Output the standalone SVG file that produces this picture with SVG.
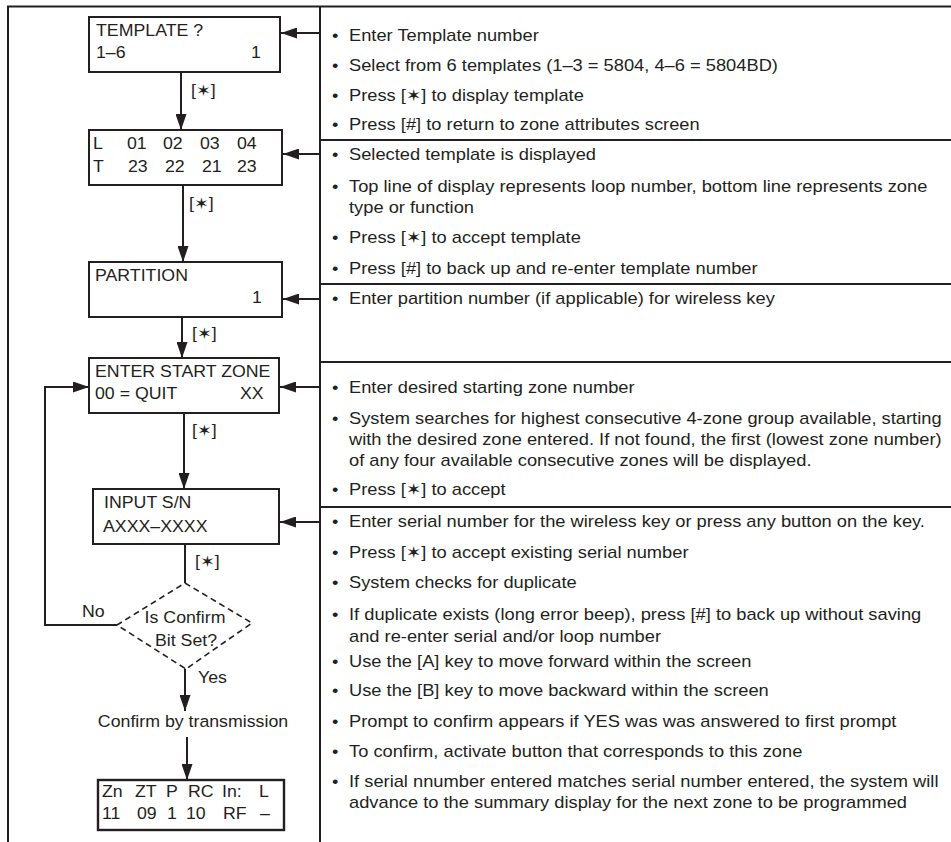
<svg xmlns="http://www.w3.org/2000/svg" width="951" height="842" viewBox="0 0 951 842">
<style>
.ln{stroke:#231f20;stroke-width:2;fill:none}
.bx{stroke:#231f20;stroke-width:2;fill:#fff}
.dm{stroke:#231f20;stroke-width:1.6;fill:#fff;stroke-dasharray:6,4}
.ar{stroke:#231f20;stroke-width:2;fill:none;marker-end:url(#ah)}
text{font-family:"Liberation Sans",Arial,"DejaVu Sans",sans-serif;fill:#231f20}
.l{font-size:15.7px}
.r{font-size:16.2px}
.m{text-anchor:middle}
</style>
<defs>
<marker id="ah" viewBox="0 0 16 11" refX="16" refY="5.5" markerWidth="16" markerHeight="11" markerUnits="userSpaceOnUse" orient="auto"><path d="M0,0 L16,5.5 L0,11 z" fill="#231f20"/></marker>
</defs>
<rect width="951" height="842" fill="#fff"/>
<g id="frame">
<path class="ln" d="M8,842 V6.5 H951"/>
<path class="ln" d="M320,6.5 V842"/>
<path class="ln" d="M320,140 H951 M320,284 H951 M320,362 H951 M320,507 H951"/>
</g>
<g id="connectors">
<path class="ar" d="M320,33 H281"/>
<path class="ar" d="M320,154 H283"/>
<path class="ar" d="M320,299 H283"/>
<path class="ar" d="M320,387 H280"/>
<path class="ar" d="M320,522 H280"/>
<path class="ar" d="M181,72 V130"/>
<path class="ar" d="M183,185 V262"/>
<path class="ar" d="M182,317 V358"/>
<path class="ar" d="M184,413 V489"/>
<path class="ln" d="M185,544 V583"/>
<path class="ar" d="M185,668 V711"/>
<path class="ar" d="M187,737 V780"/>
<path class="ar" d="M117,625 H45 V387 H89"/>
<text class="l" transform="matrix(1.13 0 0 1 191 96)">[✶]</text>
<text class="l" transform="matrix(1.13 0 0 1 189 209)">[✶]</text>
<text class="l" transform="matrix(1.13 0 0 1 192 339)">[✶]</text>
<text class="l" transform="matrix(1.13 0 0 1 192 436)">[✶]</text>
<text class="l" transform="matrix(1.13 0 0 1 195 567)">[✶]</text>
<text class="l" transform="matrix(1.13 0 0 1 198 683)">Yes</text>
<text class="l" transform="matrix(1.13 0 0 1 82 617)">No</text>
</g>
<g id="template">
<rect class="bx" x="89" y="17" width="191" height="55"/>
<text class="l" transform="matrix(1.13 0 0 1 96 36)">TEMPLATE ?</text>
<text class="l" transform="matrix(1.13 0 0 1 96 58)">1–6</text>
<text class="l" transform="matrix(1.13 0 0 1 251 58)">1</text>
</g>
<g id="templateDisplay">
<rect class="bx" x="89" y="130" width="193" height="55"/>
<text class="l" transform="matrix(1.13 0 0 1 93 149)">L</text>
<text class="l" transform="matrix(1.13 0 0 1 127 149)">01</text>
<text class="l" transform="matrix(1.13 0 0 1 163 149)">02</text>
<text class="l" transform="matrix(1.13 0 0 1 200 149)">03</text>
<text class="l" transform="matrix(1.13 0 0 1 237 149)">04</text>
<text class="l" transform="matrix(1.13 0 0 1 93 172)">T</text>
<text class="l" transform="matrix(1.13 0 0 1 128 172)">23</text>
<text class="l" transform="matrix(1.13 0 0 1 165 172)">22</text>
<text class="l" transform="matrix(1.13 0 0 1 202 172)">21</text>
<text class="l" transform="matrix(1.13 0 0 1 237 172)">23</text>
</g>
<g id="partition">
<rect class="bx" x="89" y="262" width="193" height="55"/>
<text class="l" transform="matrix(1.13 0 0 1 95 281)">PARTITION</text>
<text class="l" transform="matrix(1.13 0 0 1 252 303)">1</text>
</g>
<g id="startZone">
<rect class="bx" x="89" y="358" width="190" height="55"/>
<text class="l" transform="matrix(1.13 0 0 1 95 377)">ENTER START ZONE</text>
<text class="l" transform="matrix(1.13 0 0 1 95 399)">00 = QUIT</text>
<text class="l" transform="matrix(1.13 0 0 1 240 399)">XX</text>
</g>
<g id="inputSN">
<rect class="bx" x="93" y="489" width="186" height="55"/>
<text class="l" transform="matrix(1.13 0 0 1 104 508)">INPUT S/N</text>
<text class="l" transform="matrix(1.13 0 0 1 103 532)">AXXX–XXXX</text>
</g>
<g id="confirmBit">
<path class="dm" d="M185,583 L252,623 L186,669 L117,625 Z"/>
<text class="l m" transform="matrix(1.13 0 0 1 185 623)">Is Confirm</text>
<text class="l m" transform="matrix(1.13 0 0 1 186 646)">Bit Set?</text>
</g>
<g id="confirmTx">
<text class="l m" transform="matrix(1.13 0 0 1 193 727)">Confirm by transmission</text>
</g>
<g id="summary">
<rect class="bx" x="98" y="780" width="186" height="50" style="stroke-width:2.4"/>
<text class="l" transform="matrix(1.13 0 0 1 102 797)">Zn</text>
<text class="l" transform="matrix(1.13 0 0 1 135 797)">ZT</text>
<text class="l" transform="matrix(1.13 0 0 1 166 797)">P</text>
<text class="l" transform="matrix(1.13 0 0 1 188 797)">RC</text>
<text class="l" transform="matrix(1.13 0 0 1 222 797)">In:</text>
<text class="l" transform="matrix(1.13 0 0 1 259 797)">L</text>
<text class="l" transform="matrix(1.13 0 0 1 102 819)">11</text>
<text class="l" transform="matrix(1.13 0 0 1 137 819)">09</text>
<text class="l" transform="matrix(1.13 0 0 1 167 819)">1</text>
<text class="l" transform="matrix(1.13 0 0 1 186 819)">10</text>
<text class="l" transform="matrix(1.13 0 0 1 223 819)">RF</text>
<text class="l" transform="matrix(1.13 0 0 1 260 819)">–</text>
</g>
<g id="notes">
<text class="r" transform="matrix(1.13 0 0 1 332 41)">•</text>
<text class="r" transform="matrix(1.13 0 0 1 349 41)">Enter Template number</text>
<text class="r" transform="matrix(1.13 0 0 1 332 71)">•</text>
<text class="r" transform="matrix(1.13 0 0 1 349 71)">Select from 6 templates (1–3 = 5804, 4–6 = 5804BD)</text>
<text class="r" transform="matrix(1.13 0 0 1 332 101)">•</text>
<text class="r" transform="matrix(1.13 0 0 1 349 101)">Press [✶] to display template</text>
<text class="r" transform="matrix(1.13 0 0 1 332 130)">•</text>
<text class="r" transform="matrix(1.13 0 0 1 349 130)">Press [#] to return to zone attributes screen</text>
<text class="r" transform="matrix(1.13 0 0 1 332 160)">•</text>
<text class="r" transform="matrix(1.13 0 0 1 349 160)">Selected template is displayed</text>
<text class="r" transform="matrix(1.13 0 0 1 332 192)">•</text>
<text class="r" transform="matrix(1.13 0 0 1 349 192)">Top line of display represents loop number, bottom line represents zone</text>
<text class="r" transform="matrix(1.13 0 0 1 349 213)">type or function</text>
<text class="r" transform="matrix(1.13 0 0 1 332 243)">•</text>
<text class="r" transform="matrix(1.13 0 0 1 349 243)">Press [✶] to accept template</text>
<text class="r" transform="matrix(1.13 0 0 1 332 274)">•</text>
<text class="r" transform="matrix(1.13 0 0 1 349 274)">Press [#] to back up and re-enter template number</text>
<text class="r" transform="matrix(1.13 0 0 1 332 304)">•</text>
<text class="r" transform="matrix(1.13 0 0 1 349 304)">Enter partition number (if applicable) for wireless key</text>
<text class="r" transform="matrix(1.13 0 0 1 332 393)">•</text>
<text class="r" transform="matrix(1.13 0 0 1 349 393)">Enter desired starting zone number</text>
<text class="r" transform="matrix(1.13 0 0 1 332 424)">•</text>
<text class="r" transform="matrix(1.13 0 0 1 349 424)">System searches for highest consecutive 4-zone group available, starting</text>
<text class="r" transform="matrix(1.13 0 0 1 349 445)">with the desired zone entered. If not found, the first (lowest zone number)</text>
<text class="r" transform="matrix(1.13 0 0 1 349 466)">of any four available consecutive zones will be displayed.</text>
<text class="r" transform="matrix(1.13 0 0 1 332 495)">•</text>
<text class="r" transform="matrix(1.13 0 0 1 349 495)">Press [✶] to accept</text>
<text class="r" transform="matrix(1.13 0 0 1 332 527)">•</text>
<text class="r" transform="matrix(1.13 0 0 1 349 527)">Enter serial number for the wireless key or press any button on the key.</text>
<text class="r" transform="matrix(1.13 0 0 1 332 558)">•</text>
<text class="r" transform="matrix(1.13 0 0 1 349 558)">Press [✶] to accept existing serial number</text>
<text class="r" transform="matrix(1.13 0 0 1 332 588)">•</text>
<text class="r" transform="matrix(1.13 0 0 1 349 588)">System checks for duplicate</text>
<text class="r" transform="matrix(1.13 0 0 1 332 620)">•</text>
<text class="r" transform="matrix(1.13 0 0 1 349 620)">If duplicate exists (long error beep), press [#] to back up without saving</text>
<text class="r" transform="matrix(1.13 0 0 1 349 642)">and re-enter serial and/or loop number</text>
<text class="r" transform="matrix(1.13 0 0 1 332 667)">•</text>
<text class="r" transform="matrix(1.13 0 0 1 349 667)">Use the [A] key to move forward within the screen</text>
<text class="r" transform="matrix(1.13 0 0 1 332 696)">•</text>
<text class="r" transform="matrix(1.13 0 0 1 349 696)">Use the [B] key to move backward within the screen</text>
<text class="r" transform="matrix(1.13 0 0 1 332 727)">•</text>
<text class="r" transform="matrix(1.13 0 0 1 349 727)">Prompt to confirm appears if YES was was answered to first prompt</text>
<text class="r" transform="matrix(1.13 0 0 1 332 757)">•</text>
<text class="r" transform="matrix(1.13 0 0 1 349 757)">To confirm, activate button that corresponds to this zone</text>
<text class="r" transform="matrix(1.13 0 0 1 332 787)">•</text>
<text class="r" transform="matrix(1.13 0 0 1 349 787)">If serial nnumber entered matches serial number entered, the system will</text>
<text class="r" transform="matrix(1.13 0 0 1 349 808)">advance to the summary display for the next zone to be programmed</text>
</g>
</svg>
